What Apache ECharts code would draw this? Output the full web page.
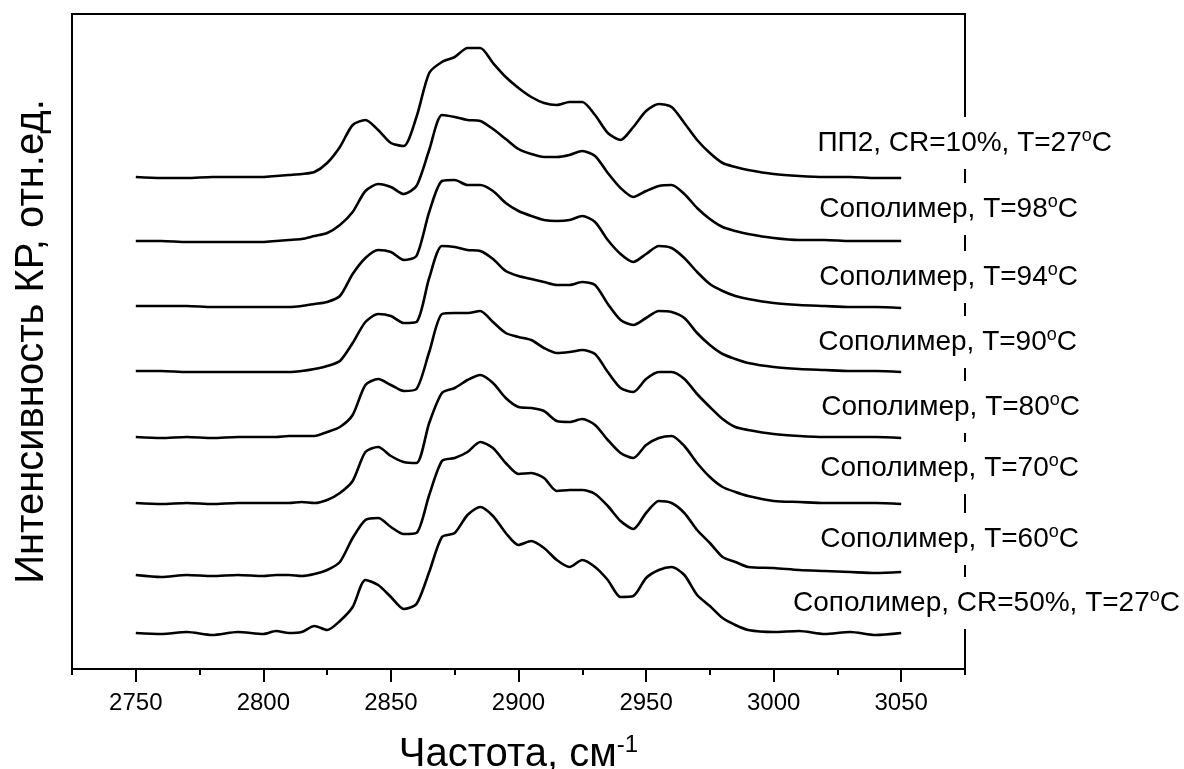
<!DOCTYPE html>
<html>
<head>
<meta charset="utf-8">
<script src="https://cdn.jsdelivr.net/npm/echarts@6/dist/echarts.min.js"></script>
<style>
html,body{margin:0;padding:0;background:#fff;}
#chart{width:1184px;height:769px;}
</style>
</head>
<body>
<div id="chart"></div>
<script>
// Raman shift, cm-1
const wavenumbers = [2750,2760,2770,2780,2790,2800,2805,2810,2815,2820,2825,2830,2835,2840,2845,2850,2855,2860,2865,2870,2875,2880,2885,2890,2895,2900,2905,2910,2915,2920,2925,2930,2935,2940,2945,2950,2955,2960,2965,2970,2975,2980,2985,2990,3000,3010,3020,3030,3040,3050];

// Stacked intensities (arb. units, already shifted for display)
const copolymerCR50_T27 = [36,35,37,34,37,35,38,36,37,43,39,48,62,89,84,72,60,65,97,132,136,154,162,153,136,124,128,121,109,102,109,102,89,72,73,91,99,102,94,74,63,51,44,39,37,38,35,37,34,36];
const copolymerT60 = [94,92,94,93,94,93,94,94,93,95,99,107,131,149,151,142,135,136,174,208,211,217,227,221,206,195,196,191,178,179,179,175,163,148,140,156,168,166,156,139,126,112,107,102,101,99,98,97,96,97];
const copolymerT70 = [166,165,166,165,166,166,166,166,167,166,169,176,188,217,222,213,207,206,246,276,281,289,294,286,271,262,261,258,248,247,250,244,229,216,211,224,231,233,223,206,192,182,177,173,168,167,166,166,166,165];
const copolymerT80 = [232,231,232,231,232,232,232,233,233,233,237,242,254,284,290,284,278,280,317,355,356,356,358,347,336,332,329,321,316,317,319,315,297,281,277,290,297,297,290,275,262,250,242,239,235,233,232,232,232,231];
const copolymerT90 = [298,298,297,297,297,297,297,297,298,300,303,308,326,347,355,353,346,347,391,423,422,419,418,410,398,393,390,387,384,384,387,384,365,349,344,351,358,357,351,336,324,315,310,306,302,300,299,298,298,297];
const copolymerT94 = [363,363,363,362,362,362,362,362,363,365,367,373,395,411,419,417,409,413,457,488,489,484,484,478,466,458,453,449,448,449,453,447,429,415,407,415,423,421,411,397,385,378,373,370,366,364,363,362,362,361];
const copolymerT98 = [428,428,427,427,427,427,428,429,430,433,436,444,457,478,485,482,475,483,519,554,552,549,548,540,530,520,515,512,512,514,518,513,496,481,472,478,483,484,475,461,450,442,438,435,431,429,429,428,428,428];
const pp2CR10_T27 = [492,491,491,492,492,492,493,494,495,497,506,522,544,549,539,526,523,552,596,607,612,621,621,606,592,581,572,566,564,567,567,554,536,529,542,558,565,562,546,529,516,506,502,499,495,493,492,492,491,491];

// Curve labels (text before the degree sign)
const labelTexts = [
  'Сополимер, CR=50%, T=27',
  'Сополимер, T=60',
  'Сополимер, T=70',
  'Сополимер, T=80',
  'Сополимер, T=90',
  'Сополимер, T=94',
  'Сополимер, T=98',
  'ПП2, CR=10%, T=27'
];

// Axis tick values
const xMajorTicks = [2750,2800,2850,2900,2950,3000,3050];
const xMinorTicks = [2725,2775,2825,2875,2925,2975,3025,3075];

const xTitle = 'Частота, см';
const xTitleSup = '-1';
const yTitle = 'Интенсивность КР, отн.ед.';

const allSeries = [copolymerCR50_T27, copolymerT60, copolymerT70, copolymerT80, copolymerT90, copolymerT94, copolymerT98, pp2CR10_T27];

// label placement (right edge x, vertical centre y) – layout only
const labelPlacement = [[1180,603],[1079,539],[1079,468],[1080,407],[1077,342],[1078,277],[1078,209],[1112,143]];

const FONT = "'Liberation Sans', Arial, Helvetica, sans-serif";
const chart = echarts.init(document.getElementById('chart'), null, {renderer:'canvas'});

const series = allSeries.map((vals, k) => ({
  type: 'line',
  name: labelTexts[k],
  xAxisIndex: 0,
  yAxisIndex: 0,
  data: wavenumbers.map((w, i) => [w, vals[i]]),
  showSymbol: false,
  symbol: 'none',
  smooth: 0.25,
  lineStyle: {color: '#000', width: 2.6},
  itemStyle: {color: '#000'},
  z: 3
}));

const rich = {
  t: {fontSize: 28, fontFamily: FONT, color: '#000', lineHeight: 32},
  s: {fontSize: 18, fontFamily: FONT, color: '#000', lineHeight: 16, verticalAlign: 'top'}
};

const graphics = labelTexts.map((txt, k) => ({
  type: 'text',
  x: labelPlacement[k][0] + 4,
  y: labelPlacement[k][1],
  z: 1,
  zlevel: 0,
  style: {
    text: '{t|' + txt + '}{s|o}{t|C}',
    rich: rich,
    align: 'right',
    verticalAlign: 'middle',
    backgroundColor: '#fff',
    padding: [10, 4]
  }
}));

const option = {
  animation: false,
  backgroundColor: '#fff',
  grid: {left: 72, right: 219, top: 14, bottom: 100, show: true, borderColor: '#000', borderWidth: 2,
    backgroundColor: 'transparent', containLabel: false, outerBoundsMode: 'none'},
  xAxis: [
    {
      type: 'value', min: 2725, max: 3075, position: 'bottom',
      axisLine: {show: true, onZero: false, lineStyle: {color: '#000', width: 2}},
      axisTick: {show: true, inside: false, length: 13, customValues: xMajorTicks, lineStyle: {color: '#000', width: 2}},
      axisLabel: {show: true, customValues: xMajorTicks, fontSize: 24, fontFamily: FONT, color: '#000', margin: 22,
        formatter: function (v) { return String(v); }},
      splitLine: {show: false},
      name: '{a|' + xTitle + '}{b|' + xTitleSup + '}',
      nameLocation: 'middle',
      nameGap: 64,
      nameMoveOverlap: false,
      nameTextStyle: {
        rich: {
          a: {fontSize: 40, fontFamily: FONT, color: '#000', lineHeight: 44},
          b: {fontSize: 24, fontFamily: FONT, color: '#000', lineHeight: 24, verticalAlign: 'top'}
        }
      }
    },
    {
      type: 'value', min: 2725, max: 3075, position: 'bottom',
      axisLine: {show: false, onZero: false},
      axisTick: {show: true, inside: false, length: 6, customValues: xMinorTicks, lineStyle: {color: '#000', width: 2}},
      axisLabel: {show: false},
      splitLine: {show: false}
    }
  ],
  yAxis: [{
    type: 'value', min: 0, max: 655,
    axisLine: {show: true, onZero: false, lineStyle: {color: '#000', width: 2}},
    axisTick: {show: false},
    axisLabel: {show: false},
    splitLine: {show: false},
    name: yTitle,
    nameLocation: 'middle',
    nameGap: 20,
    nameMoveOverlap: false,
    nameTextStyle: {fontSize: 40, fontFamily: FONT, color: '#000'}
  }],
  series: series,
  graphic: graphics
};
chart.setOption(option);
</script>
</body>
</html>
